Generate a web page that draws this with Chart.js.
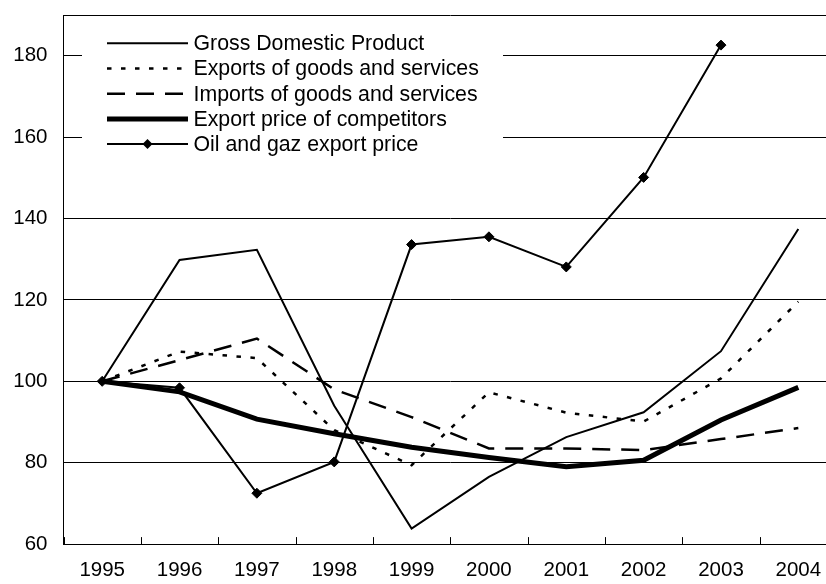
<!DOCTYPE html>
<html>
<head>
<meta charset="utf-8">
<style>
  html, body { margin: 0; padding: 0; background: #fff; overflow: hidden; }
  #wrap { width: 846px; height: 584px; }
</style>
<script src="https://cdn.jsdelivr.net/npm/chart.js@4/dist/chart.umd.min.js"></script>
</head>
<body>
<div id="wrap"><canvas id="lineChart" width="846" height="584"></canvas></div>
<script>
(function () {
	"use strict";

	// data (1995 = 100)
	var years = ["1995", "1996", "1997", "1998", "1999", "2000", "2001", "2002", "2003", "2004"];
	var gdp = [100, 129.8, 132.3, 94, 63.8, 76.5, 86.3, 92.4, 107.4, 137.4];
	var exportsGS = [100, 107.3, 105.7, 88, 79.4, 97.3, 92.3, 90.1, 100.7, 119.6];
	var importsGS = [100, 105.2, 110.5, 98, 91.2, 83.5, 83.5, 83.1, 85.8, 88.5];
	var competitors = [100, 97.4, 90.7, 87.1, 83.8, 81.3, 79.0, 80.6, 90.5, 98.5];
	var oilGas = [100, 98.4, 72.5, 80.2, 133.6, 135.5, 128.1, 150.1, 182.6, null];
	var seriesNames = [
		"Gross Domestic Product",
		"Exports of goods and services",
		"Imports of goods and services",
		"Export price of competitors",
		"Oil and gaz export price"
	];

	var font = "'Liberation Sans', Arial, sans-serif";

	// legend drawn inside the plot, on a white box
	var boxLegend = {
		id: "boxLegend",
		beforeDatasetsDraw: function (chart) {
			var c = chart.ctx;
			c.save();
			c.fillStyle = "#fff";
			c.fillRect(82, 30, 421, 127);
			chart.data.datasets.forEach(function (ds, i) {
				var y = 43.3 + i * 25.2;
				c.beginPath();
				c.setLineDash(ds.borderDash || []);
				c.lineWidth = ds.borderWidth;
				c.strokeStyle = ds.borderColor;
				c.moveTo(107, y);
				c.lineTo(188, y);
				c.stroke();
				c.setLineDash([]);
				if (ds.pointRadius > 0) {
					var r = ds.pointRadius;
					c.fillStyle = "#000";
					c.beginPath();
					c.moveTo(147.5, y - r);
					c.lineTo(147.5 + r, y);
					c.lineTo(147.5, y + r);
					c.lineTo(147.5 - r, y);
					c.closePath();
					c.fill();
				}
				c.fillStyle = "#000";
				c.font = "21.3px " + font;
				c.textBaseline = "middle";
				c.textAlign = "left";
				c.fillText(ds.label, 193.5, y + 1);
			});
			c.restore();
		}
	};

	// small tick marks pointing up from the x axis, between the years
	var innerTicks = {
		id: "innerTicks",
		afterDatasetsDraw: function (chart) {
			var sx = chart.scales.x;
			var c = chart.ctx;
			var bottom = chart.chartArea.bottom;
			var half = (sx.getPixelForValue(1) - sx.getPixelForValue(0)) / 2;
			c.save();
			c.strokeStyle = "#000";
			c.lineWidth = 1;
			c.beginPath();
			for (var i = 0; i <= years.length; i++) {
				var x = Math.round(sx.getPixelForValue(i) - half) + 0.5;
				c.moveTo(x, bottom);
				c.lineTo(x, bottom - 7);
			}
			c.stroke();
			c.restore();
		}
	};

	var ctx = document.getElementById("lineChart");
	var myChart = new Chart(ctx, {
		type: "line",
		data: {
			labels: years,
			datasets: [
				{ label: seriesNames[0], data: gdp, borderColor: "#000", borderWidth: 2, pointRadius: 0 },
				{ label: seriesNames[1], data: exportsGS, borderColor: "#000", borderWidth: 2.5, borderDash: [4.5, 9.5], pointRadius: 0 },
				{ label: seriesNames[2], data: importsGS, borderColor: "#000", borderWidth: 2.5, borderDash: [18, 11], pointRadius: 0 },
				{ label: seriesNames[3], data: competitors, borderColor: "#000", borderWidth: 5, pointRadius: 0 },
				{ label: seriesNames[4], data: oilGas, borderColor: "#000", borderWidth: 2, pointRadius: 5,
				  pointStyle: "rectRot", pointBackgroundColor: "#000", pointBorderColor: "#000", pointBorderWidth: 1 }
			]
		},
		options: {
			responsive: false,
			animation: false,
			devicePixelRatio: 1,
			layout: { padding: { left: -2.7, top: 15, right: 9, bottom: -12.7 } },
			elements: { line: { tension: 0, fill: false, borderJoinStyle: "miter" } },
			plugins: {
				legend: { display: false },
				tooltip: { enabled: false }
			},
			scales: {
				x: {
					offset: true,
					grid: { display: false, drawTicks: false },
					border: { display: true, color: "#000", width: 1 },
					ticks: { color: "#000", padding: 14, maxRotation: 0, font: { family: font, size: 20.5 } }
				},
				y: {
					min: 60,
					max: 190,
					afterFit: function (scale) {
						// no label overhang above the top line
						scale.paddingTop = 0;
					},
					grid: { color: "#000", lineWidth: 1, drawTicks: false },
					border: { display: true, color: "#000", width: 1 },
					ticks: {
						stepSize: 20,
						color: "#000",
						padding: 16,
						font: { family: font, size: 20.5 },
						callback: function (v) { return v === 190 ? "" : v; }
					}
				}
			}
		},
		plugins: [boxLegend, innerTicks]
	});

})();
</script>
</body>
</html>
